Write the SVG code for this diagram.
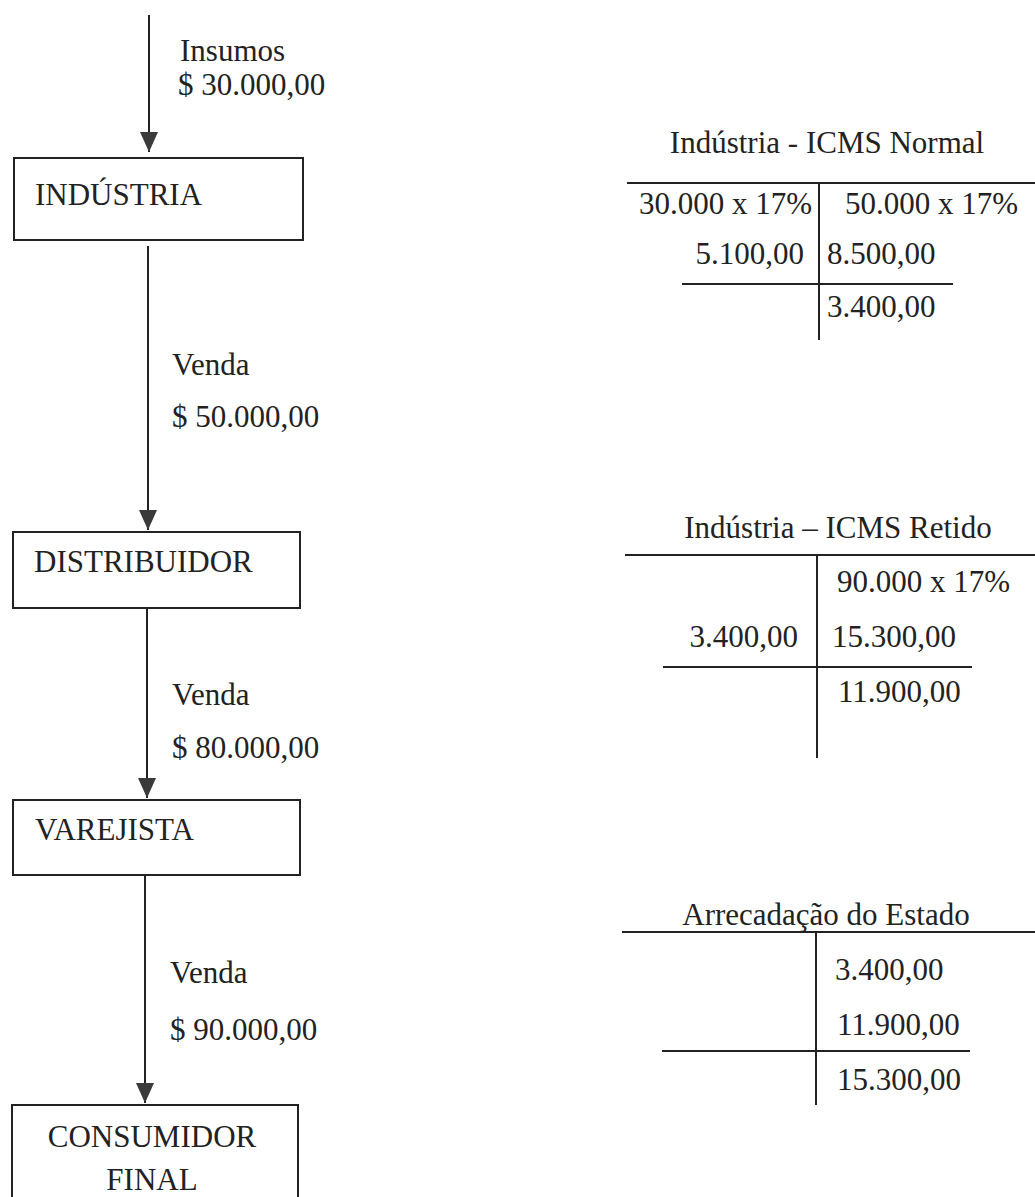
<svg xmlns="http://www.w3.org/2000/svg" width="1035" height="1197" viewBox="0 0 1035 1197">
<style>
text { font-family: "Liberation Serif", "Times New Roman", serif; font-size: 31px; fill: #222; }
.box { fill: none; stroke: #222; stroke-width: 2; }
.conn { stroke: #222; stroke-width: 2; fill: none; }
.rule { stroke: #222; stroke-width: 2; fill: none; }
.r { text-anchor: end; }
.c { text-anchor: middle; }
</style>
<defs>
<marker id="arrow" viewBox="0 0 20 18" refX="20" refY="9" markerWidth="20" markerHeight="18" markerUnits="userSpaceOnUse" orient="auto">
<path d="M0,0 L20,9 L0,18 z" fill="#3a3a3a"/>
</marker>
</defs>
<rect width="1035" height="1197" fill="#fff"/>

<g id="connectors">
<line class="conn" x1="149" y1="15" x2="149" y2="152" marker-end="url(#arrow)"/>
<line class="conn" x1="148" y1="246" x2="148" y2="530" marker-end="url(#arrow)"/>
<line class="conn" x1="147" y1="608" x2="147" y2="798" marker-end="url(#arrow)"/>
<line class="conn" x1="145" y1="875" x2="145" y2="1103" marker-end="url(#arrow)"/>
<text x="180" y="61">Insumos</text>
<text x="178" y="95">$ 30.000,00</text>
<text x="172" y="375">Venda</text>
<text x="172" y="427">$ 50.000,00</text>
<text x="172" y="705">Venda</text>
<text x="172" y="758">$ 80.000,00</text>
<text x="170" y="983">Venda</text>
<text x="170" y="1040">$ 90.000,00</text>
</g>

<g id="industria">
<rect class="box" x="14" y="158" width="289" height="82"/>
<text x="35" y="205">INDÚSTRIA</text>
</g>
<g id="distribuidor">
<rect class="box" x="13" y="532" width="287" height="76"/>
<text x="34" y="572">DISTRIBUIDOR</text>
</g>
<g id="varejista">
<rect class="box" x="13" y="800" width="287" height="75"/>
<text x="35" y="840">VAREJISTA</text>
</g>
<g id="consumidor-final">
<rect class="box" x="12" y="1105" width="286" height="100"/>
<text class="c" x="152" y="1147">CONSUMIDOR</text>
<text class="c" x="152" y="1190">FINAL</text>
</g>

<g id="t-icms-normal">
<text class="c" x="827" y="153">Indústria - ICMS Normal</text>
<line class="rule" x1="627" y1="183" x2="1035" y2="183"/>
<line class="rule" x1="819" y1="183" x2="819" y2="340"/>
<line class="rule" x1="682" y1="284" x2="953" y2="284"/>
<text class="r" x="812" y="214">30.000 x 17%</text>
<text x="845" y="214">50.000 x 17%</text>
<text class="r" x="804" y="264">5.100,00</text>
<text x="827" y="264">8.500,00</text>
<text x="827" y="317">3.400,00</text>
</g>

<g id="t-icms-retido">
<text class="c" x="838" y="538">Indústria – ICMS Retido</text>
<line class="rule" x1="625" y1="555" x2="1035" y2="555"/>
<line class="rule" x1="817" y1="555" x2="817" y2="758"/>
<line class="rule" x1="663" y1="667" x2="972" y2="667"/>
<text x="837" y="592">90.000 x 17%</text>
<text class="r" x="798" y="647">3.400,00</text>
<text x="832" y="647">15.300,00</text>
<text x="838" y="702">11.900,00</text>
</g>

<g id="t-arrecadacao">
<text class="c" x="826" y="925">Arrecadação do Estado</text>
<line class="rule" x1="622" y1="932" x2="1035" y2="932"/>
<line class="rule" x1="816" y1="932" x2="816" y2="1105"/>
<line class="rule" x1="662" y1="1051" x2="970" y2="1051"/>
<text x="835" y="980">3.400,00</text>
<text x="837" y="1035">11.900,00</text>
<text x="837" y="1090">15.300,00</text>
</g>
</svg>
